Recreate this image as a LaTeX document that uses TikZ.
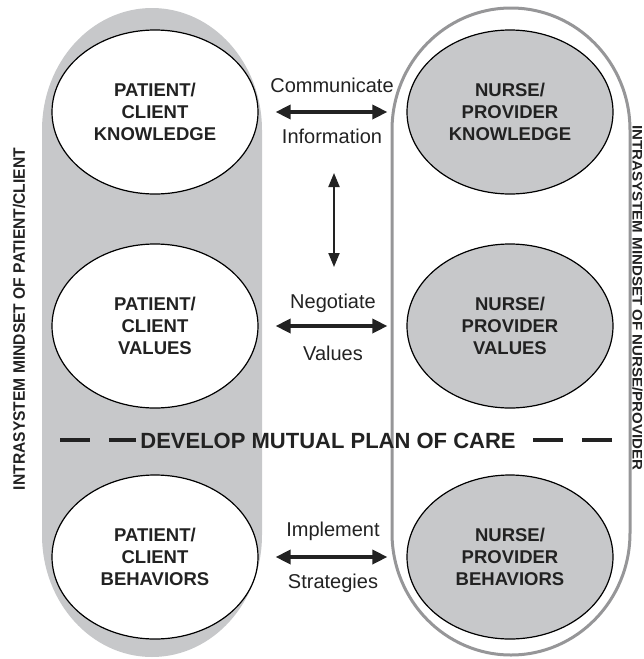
\documentclass[tikz,border=0pt]{standalone}
\usepackage{fontspec}
\setmainfont{Liberation Sans}
\usetikzlibrary{arrows.meta,shapes.geometric}

\definecolor{capsule}{RGB}{199,200,202}
\definecolor{rim}{RGB}{150,150,152}
\definecolor{ink}{RGB}{34,34,34}

\tikzset{
  mind/.style={ellipse,draw=black,line width=1.2pt,minimum width=206pt,minimum height=164pt,
    inner sep=0pt,align=center,text=ink,font=\bfseries\fontsize{18.5}{22}\selectfont},
  talk/.style={text=ink,anchor=base,font=\fontsize{20}{24}\selectfont},
  swap/.style={draw=ink,line width=3.5pt,{Triangle[length=15pt,width=14pt]}-{Triangle[length=15pt,width=14pt]},
    shorten <=17pt,shorten >=19pt},
  planline/.style={draw=ink,line width=4pt,dash pattern=on 30pt off 19pt}
}

\begin{document}
\begin{tikzpicture}[x=1pt,y=-1pt]
\useasboundingbox (0,0) rectangle (644,659);

% the two mindsets
\fill[capsule] (42,130) arc[start angle=180,end angle=0,x radius=110pt,y radius=122pt]
  -- (262,535) arc[start angle=0,end angle=-180,x radius=110pt,y radius=122pt] -- cycle;
\draw[rim,line width=3pt] (392,130) arc[start angle=180,end angle=0,x radius=119pt,y radius=122pt]
  -- (630,533) arc[start angle=0,end angle=-180,x radius=119pt,y radius=122pt] -- cycle;

% patient/client
\node[mind,fill=white] (pk) at (155,112) {PATIENT/\\CLIENT\\KNOWLEDGE};
\node[mind,fill=white] (pv) at (155,326) {PATIENT/\\CLIENT\\VALUES};
\node[mind,fill=white] (pb) at (155,557) {PATIENT/\\CLIENT\\BEHAVIORS};

% nurse/provider
\node[mind,fill=capsule] (nk) at (510,112) {NURSE/\\PROVIDER\\KNOWLEDGE};
\node[mind,fill=capsule] (nv) at (510,326) {NURSE/\\PROVIDER\\VALUES};
\node[mind,fill=capsule] (nb) at (510,557) {NURSE/\\PROVIDER\\BEHAVIORS};

% exchanges
\draw[swap] (pk.east) -- (nk.west);
\draw[swap] (pv.east) -- (nv.west);
\draw[swap] (pb.east) -- (nb.west);
\node[talk] (comm) at (332,92) {Communicate};
\node[talk] (info) at (332,143) {Information};
\node[talk] (nego) at (333,308) {Negotiate};
\node[talk] (vals) at (333,360) {Values};
\node[talk] (impl) at (333,536) {Implement};
\node[talk] (strat) at (333,588) {Strategies};

\coordinate (vtop) at (334,173);
\coordinate (vbot) at (334,267);
\draw[ink,line width=2pt,{Triangle[length=14pt,width=11pt]}-{Triangle[length=14pt,width=11pt]}] (vtop) -- (vbot);

% mutual plan
\node[text=ink,anchor=base,inner xsep=4pt,font=\bfseries\fontsize{22}{26}\selectfont] (plan) at (328,448)
  {DEVELOP MUTUAL PLAN OF CARE};
\coordinate (dl) at (60,440);
\coordinate (dr) at (612,440);
\draw[planline] (dl) -- (dl -| plan.west);
\draw[planline] (dr) -- (dr -| plan.east);

% side titles
\node[rotate=90,text=ink,inner sep=0pt] (lside) at (19,319)
  {\resizebox{342pt}{12pt}{\bfseries INTRASYSTEM MINDSET OF PATIENT/CLIENT}};
\node[rotate=-90,text=ink,inner sep=0pt] (rside) at (637.5,298)
  {\resizebox{345pt}{10pt}{\bfseries INTRASYSTEM MINDSET OF NURSE/PROVIDER}};

\end{tikzpicture}
\end{document}
